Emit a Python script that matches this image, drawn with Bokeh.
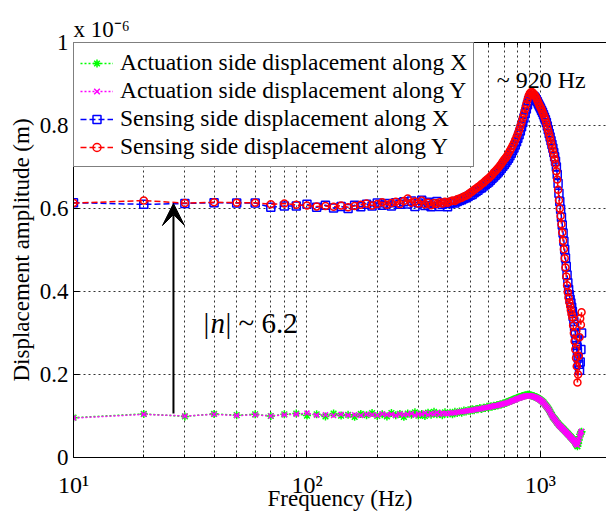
from bokeh.plotting import figure
from bokeh.models import (Range1d, FixedTicker, LogAxis, Label, Arrow, VeeHead,
                          Legend, LegendItem, ColumnDataSource)
from bokeh.embed import file_html
from bokeh.resources import INLINE

FONT = "Liberation Serif"

# ---------------- data (displacement amplitude in units of 1e-6 m) ----------------
freq = list(range(10, 1510, 10))  # Hz, 10 Hz measurement grid

act_x = [
    .096, .105, .099, .105, .102, .104, .100, .104, .106, .101,
    .104, .099, .106, .101, .103, .098, .105, .102, .107, .100,
    .104, .099, .107, .102, .105, .098, .106, .103, .109, .101,
    .105, .100, .108, .103, .110, .104, .106, .102, .109, .105,
    .108, .104, .110, .107, .111, .108, .113, .111, .114, .112,
    .116, .114, .117, .116, .119, .117, .120, .119, .122, .121,
    .123, .122, .125, .124, .126, .126, .128, .128, .130, .130,
    .132, .133, .135, .136, .137, .139, .140, .141, .143, .144,
    .145, .146, .147, .148, .149, .150, .150, .151, .151, .150,
    .150, .149, .148, .147, .146, .145, .144, .142, .141, .139,
    .137, .135, .133, .130, .127, .124, .121, .118, .114, .110,
    .106, .102, .098, .095, .093, .090, .087, .084, .082, .079,
    .077, .075, .073, .071, .069, .067, .065, .063, .061, .059,
    .057, .055, .053, .051, .049, .047, .045, .043, .041, .039,
    .036, .033, .030, .027, .034, .042, .050, .056, .060, .062,
]

act_y = [
    .095, .104, .100, .104, .101, .103, .100, .103, .104, .107,
    .102, .103, .101, .104, .102, .103, .101, .104, .103, .102,
    .105, .103, .104, .101, .105, .103, .104, .106, .102, .105,
    .104, .107, .103, .106, .105, .108, .104, .107, .106, .105,
    .107, .108, .107, .109, .110, .110, .111, .112, .113, .113,
    .114, .115, .116, .117, .117, .118, .119, .120, .121, .121,
    .122, .123, .124, .125, .125, .126, .127, .128, .129, .130,
    .131, .132, .133, .134, .136, .137, .138, .139, .141, .142,
    .143, .144, .145, .146, .147, .148, .148, .149, .149, .149,
    .148, .148, .147, .146, .145, .144, .143, .141, .140, .138,
    .136, .134, .132, .129, .126, .123, .120, .117, .113, .109,
    .105, .101, .098, .095, .092, .089, .086, .083, .081, .078,
    .076, .074, .072, .070, .068, .066, .064, .062, .060, .058,
    .056, .054, .052, .050, .048, .046, .044, .042, .040, .038,
    .035, .033, .031, .030, .036, .043, .050, .056, .060, .063,
]

sen_x = [
    .614, .610, .612, .614, .613, .613, .603, .606, .606, .610,
    .603, .608, .601, .605, .600, .608, .604, .610, .606, .613,
    .608, .612, .606, .614, .610, .616, .611, .618, .605, .613,
    .620, .607, .615, .604, .612, .617, .605, .610, .613, .604,
    .612, .615, .613, .617, .619, .621, .624, .626, .629, .632,
    .634, .638, .641, .644, .648, .650, .654, .657, .661, .664,
    .668, .672, .676, .680, .684, .688, .692, .697, .702, .706,
    .711, .716, .721, .727, .733, .740, .746, .753, .761, .769,
    .778, .787, .797, .807, .818, .829, .840, .850, .860, .866,
    .870, .872, .871, .869, .866, .862, .857, .852, .847, .842,
    .837, .832, .826, .820, .814, .807, .799, .790, .781, .772,
    .763, .754, .745, .735, .725, .714, .700, .682, .660, .637,
    .617, .598, .579, .560, .541, .521, .501, .481, .460, .440,
    .421, .405, .392, .381, .372, .362, .352, .340, .328, .315,
    .300, .285, .270, .255, .240, .225, .210, .230, .260, .300,
]

sen_y = [
    .613, .619, .613, .615, .614, .614, .610, .612, .609, .607,
    .605, .606, .604, .607, .603, .606, .609, .612, .607, .611,
    .615, .609, .613, .616, .611, .618, .624, .614, .617, .612,
    .619, .610, .614, .608, .613, .611, .615, .612, .616, .614,
    .617, .619, .618, .622, .624, .626, .629, .631, .634, .638,
    .641, .645, .648, .652, .655, .659, .662, .666, .670, .673,
    .677, .681, .686, .690, .694, .698, .703, .708, .713, .718,
    .722, .727, .733, .739, .745, .751, .758, .765, .772, .780,
    .789, .798, .808, .818, .829, .840, .851, .862, .871, .877,
    .880, .881, .878, .875, .871, .866, .860, .854, .849, .844,
    .839, .833, .827, .821, .815, .806, .796, .787, .778, .769,
    .759, .750, .740, .730, .719, .708, .690, .670, .645, .620,
    .600, .582, .562, .542, .522, .502, .480, .458, .436, .415,
    .398, .385, .374, .365, .355, .346, .338, .318, .300, .280,
    .260, .240, .220, .181, .200, .245, .290, .335, .320, .350,
]

labels = [
    "Actuation side displacement along X",
    "Actuation side displacement along Y",
    "Sensing side displacement along X",
    "Sensing side displacement along Y",
]

x_major = [10, 100, 1000]
x_minor = [20, 30, 40, 50, 60, 70, 80, 90, 200, 300, 400, 500, 600, 700, 800, 900]
x_tick_labels = {10: "10\u00b9", 100: "10\u00b2", 1000: "10\u00b3"}
y_ticks = [0, 0.2, 0.4, 0.6, 0.8, 1]
y_tick_labels = {0: "0", 0.2: "0.2", 0.4: "0.4", 0.6: "0.6", 0.8: "0.8", 1: "1"}

# annotations
exponent_text = "x 10\u207b\u2076"
x_title = "Frequency (Hz)"
peak_text = "~ 920 Hz"
peak_pos = (650, 0.91)
arrow_x = 26.8
arrow_y = (0.106, 0.612)
n_pos = (36.0, 0.325)

for arr in (act_x, act_y, sen_x, sen_y):
    assert len(arr) == len(freq)

src = ColumnDataSource(dict(f=freq, ax=act_x, ay=act_y, sx=sen_x, sy=sen_y))

# ---------------- figure ----------------
p = figure(width=606, height=513, x_axis_type="log",
           x_range=Range1d(10, 1918), y_range=Range1d(0, 1),
           output_backend="svg", toolbar_location=None,
           min_border_left=73, min_border_top=42, min_border_right=0,
           min_border_bottom=56)
p.outline_line_color = None
p.background_fill_color = "white"
p.border_fill_color = "white"

# exponent shown as the plot title (top-left, above the frame)
p.title.text = exponent_text
p.title.align = "left"
p.title.offset = 0
p.title.standoff = 1
p.title.text_font = FONT
p.title.text_font_size = "23px"
p.title.text_font_style = "normal"
p.title.text_color = "black"

# axes
xa = p.xaxis[0]
xa.ticker = FixedTicker(ticks=x_major, minor_ticks=x_minor)
xa.major_label_overrides = x_tick_labels
xa.major_label_text_font = FONT
xa.major_label_text_font_size = "24px"
xa.major_label_standoff = 14
xa.major_tick_in = 6
xa.major_tick_out = 0
xa.minor_tick_in = 3
xa.minor_tick_out = 0
xa.axis_line_color = "black"
xa.major_tick_line_color = "black"
xa.minor_tick_line_color = "black"
xa.major_label_text_color = "black"
xa.axis_label = x_title
xa.axis_label_text_font = FONT
xa.axis_label_text_font_size = "23px"
xa.axis_label_text_font_style = "normal"
xa.axis_label_text_color = "black"
xa.axis_label_standoff = -15

ya = p.yaxis[0]
ya.ticker = FixedTicker(ticks=y_ticks)
ya.major_label_overrides = y_tick_labels
ya.major_label_text_font = FONT
ya.major_label_text_font_size = "23px"
ya.major_label_standoff = 5
ya.major_tick_in = 6
ya.major_tick_out = 0
ya.minor_tick_line_color = None
ya.axis_line_color = "black"
ya.major_tick_line_color = "black"
ya.major_label_text_color = "black"
ya.axis_label = "Displacement amplitude (m)"
ya.axis_label_text_font = FONT
ya.axis_label_text_font_size = "23px"
ya.axis_label_text_font_style = "normal"
ya.axis_label_standoff = 3
ya.axis_label_text_color = "black"

top = LogAxis(ticker=FixedTicker(ticks=x_major, minor_ticks=x_minor),
              major_label_text_color=None, major_label_text_font_size="1px",
              major_label_standoff=0,
              major_tick_in=6, major_tick_out=0, minor_tick_in=3, minor_tick_out=0,
              axis_line_color="black")
p.add_layout(top, "above")

# grid
for g in (p.xgrid[0], p.ygrid[0]):
    g.grid_line_color = "#333333"
    g.grid_line_dash = "2 3"
    g.grid_line_width = 1
p.xgrid[0].minor_grid_line_color = "#333333"
p.xgrid[0].minor_grid_line_dash = "2 3"

# series
gl = p.line("f", "ax", source=src, color="#00ff00", line_width=1.5, line_dash="2 2")
gs = p.scatter("f", "ax", source=src, marker="asterisk", size=8, line_color="#00ff00", line_width=1.5)
ml = p.line("f", "ay", source=src, color="#ff00ff", line_width=1.5, line_dash="2 2")
ms = p.scatter("f", "ay", source=src, marker="x", size=7, line_color="#ff00ff", line_width=1.5)
bl = p.line("f", "sx", source=src, color="#0000ff", line_width=1.5, line_dash="6 3")
bs = p.scatter("f", "sx", source=src, marker="square", size=8, line_color="#0000ff",
               fill_color=None, line_width=1.5)
rl = p.line("f", "sy", source=src, color="#ff0000", line_width=1.5, line_dash="6 3")
rs = p.scatter("f", "sy", source=src, marker="circle", size=7, line_color="#ff0000",
               fill_color=None, line_width=1.5)

legend = Legend(items=[
    LegendItem(label=labels[0], renderers=[gl, gs]),
    LegendItem(label=labels[1], renderers=[ml, ms]),
    LegendItem(label=labels[2], renderers=[bl, bs]),
    LegendItem(label=labels[3], renderers=[rl, rs]),
], location="top_left", margin=0, padding=6, spacing=1,
    glyph_width=33, glyph_height=20, label_height=20, label_standoff=7,
    label_text_font=FONT, label_text_font_size="23.5px", label_text_color="black",
    border_line_color="black", border_line_width=1, background_fill_alpha=1)
p.add_layout(legend)

# annotations
p.add_layout(Label(x=peak_pos[0], y=peak_pos[1], text=peak_text, text_font=FONT,
                   text_font_size="24px", text_baseline="alphabetic", text_color="black"))
p.add_layout(Arrow(end=VeeHead(size=22, fill_color="black", line_color="black"),
                   x_start=arrow_x, y_start=arrow_y[0], x_end=arrow_x, y_end=arrow_y[1],
                   line_width=2, line_color="black"))
p.add_layout(Label(x=n_pos[0], y=n_pos[1], text="|", text_font=FONT, text_font_size="29px",
                   text_baseline="alphabetic", text_color="black"))
p.add_layout(Label(x=n_pos[0], y=n_pos[1], x_offset=7, text="n", text_font=FONT,
                   text_font_size="29px", text_font_style="italic", text_baseline="alphabetic",
                   text_color="black"))
p.add_layout(Label(x=n_pos[0], y=n_pos[1], x_offset=22, text="| ~ 6.2", text_font=FONT,
                   text_font_size="29px", text_baseline="alphabetic", text_color="black"))

open("out.html", "w").write(file_html(p, INLINE))
